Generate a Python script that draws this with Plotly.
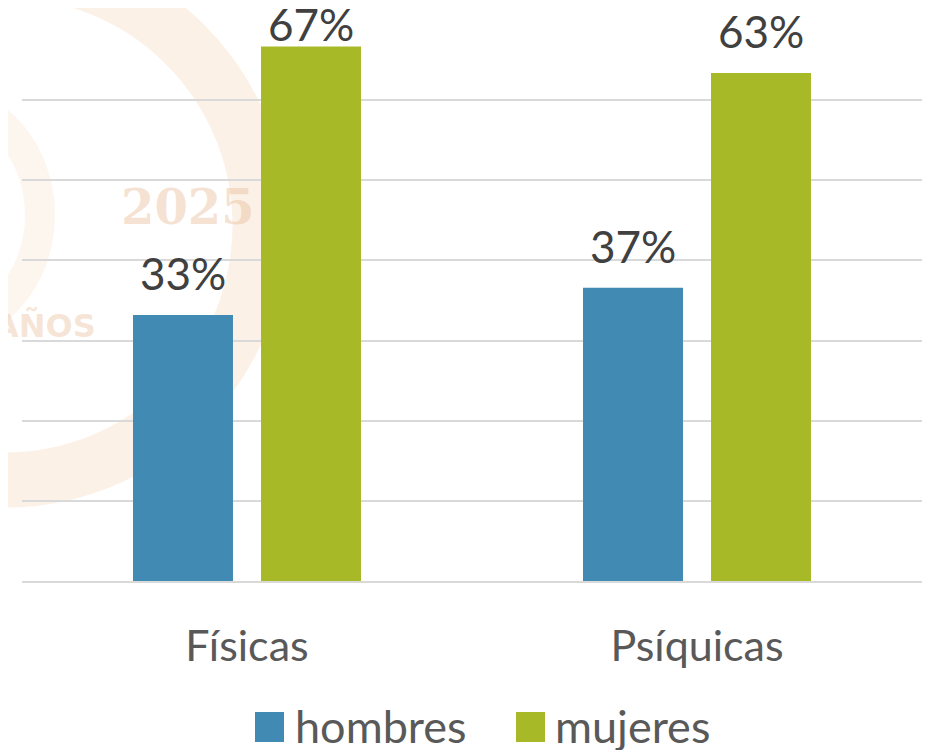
import plotly.graph_objects as go

categories = ["Físicas", "Psíquicas"]
series_names = ["hombres", "mujeres"]
hombres = [33.2, 36.6]
mujeres = [66.7, 63.4]
colors = ["#418AB3", "#A7B927"]

OFF = 8  # page body margin
W, H = 935 - OFF, 750 - OFF
L, R, T, B = 22 - OFF, 13, 20 - OFF, 169
pw, ph = W - L - R, H - T - B

def px(x):
    return (x - OFF - L) / pw

def py(y):
    return (OFF + T + ph - y) / ph

fig = go.Figure()
shapes = []
annotations = []
for i, (name, vals, col) in enumerate(zip(series_names, [hombres, mujeres], colors)):
    fig.add_trace(go.Bar(
        x=categories, y=vals, name=name,
        marker=dict(color=col, line=dict(width=0)),
        showlegend=False,
    ))
    for c, v in zip(categories, vals):
        # labels sit above the bars; the one near the chart top is kept inside
        ysh = 14 if v < 65 else -6
        annotations.append(dict(text=f"{v:.0f}%", x=c, y=v, xref="x", yref="y",
                                xshift=(-64 if i == 0 else 64), yshift=ysh,
                                xanchor="center", yanchor="bottom", showarrow=False,
                                font=dict(family="Lato", size=44, color="#404040")))

# faint watermark approximation (background decoration)
wm = "rgba(238,180,120,0.18)"
shapes.append(dict(type="circle", xref="paper", yref="paper",
                   x0=px(-250), x1=px(260), y0=py(480), y1=py(-30),
                   line=dict(color=wm, width=55), fillcolor="rgba(0,0,0,0)", layer="below"))
shapes.append(dict(type="circle", xref="paper", yref="paper",
                   x0=px(-160), x1=px(40), y0=py(330), y1=py(100),
                   line=dict(color="rgba(238,180,120,0.12)", width=30), fillcolor="rgba(0,0,0,0)", layer="below"))
annotations.append(dict(text="<b>2025</b>", x=px(188), y=py(207), xref="paper", yref="paper",
                        xanchor="center", yanchor="middle",
                        showarrow=False, font=dict(family="DejaVu Serif", size=48, color="rgba(230,180,140,0.38)")))
annotations.append(dict(text="<b>AÑOS</b>", x=px(45), y=py(326), xref="paper", yref="paper",
                        xanchor="center", yanchor="middle",
                        showarrow=False, font=dict(family="DejaVu Sans", size=32, color="rgba(230,180,140,0.35)")))

# custom legend
leg_y = 726
leg_items = [(255, 293), (516, 553)]
for (sx, tx), name, col in zip(leg_items, series_names, colors):
    shapes.append(dict(type="rect", xref="paper", yref="paper",
                       x0=px(sx), x1=px(sx + 29), y0=py(leg_y + 16), y1=py(leg_y - 14),
                       fillcolor=col, line=dict(width=0)))
    annotations.append(dict(text=name, x=px(tx), y=py(leg_y), xref="paper", yref="paper",
                            xanchor="left", yanchor="middle", showarrow=False,
                            font=dict(family="Lato", size=45, color="#595959")))

fig.update_layout(
    width=W, height=H,
    margin=dict(l=L, r=R, t=T, b=B),
    paper_bgcolor="white", plot_bgcolor="rgba(0,0,0,0)",
    barmode="group", bargap=0.431, bargroupgap=0.219,
    shapes=shapes, annotations=annotations,
    showlegend=False,
    xaxis=dict(showgrid=False, showline=True, linecolor="#D9D9D9", linewidth=2,
               ticks="", tickfont=dict(family="Lato", size=43, color="#595959"),
               ticklabelstandoff=26),
    yaxis=dict(range=[0, 70], dtick=10, showgrid=True, gridcolor="#D9D9D9", gridwidth=2,
               showticklabels=False, zeroline=False, ticks=""),
)

fig.write_html("out.html")
